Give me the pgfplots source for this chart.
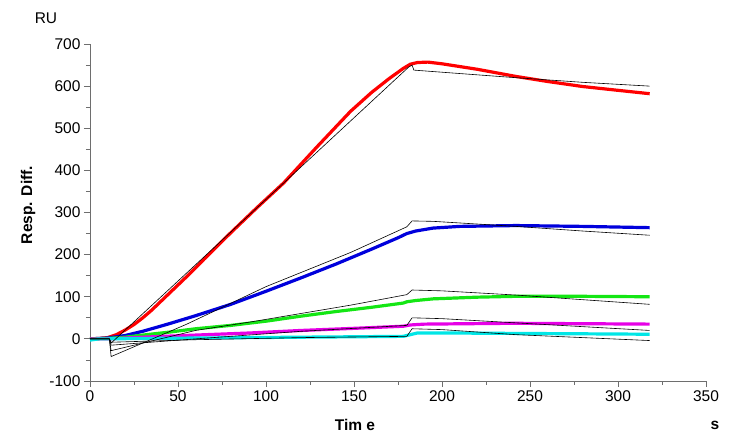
\documentclass[border=0pt]{standalone}
\usepackage{fontspec}
\setmainfont{Liberation Sans}
\usepackage{pgfplots}
\pgfplotsset{compat=1.18}
\definecolor{axgray}{RGB}{110,110,110}
\definecolor{cRed}{RGB}{255,0,0}
\definecolor{cBlue}{RGB}{0,0,220}
\definecolor{cGreen}{RGB}{20,230,20}
\definecolor{cMag}{RGB}{230,0,230}
\definecolor{cCyan}{RGB}{0,230,230}

\begin{document}
\begin{tikzpicture}[x=1bp,y=1bp]
\path[use as bounding box] (-90,-60) rectangle (643,381);
\begin{axis}[
  scale only axis,
  width=616bp, height=337bp,
  at={(0,0)}, anchor=south west,
  xmin=0, xmax=350, ymin=-100, ymax=700,
  axis lines=left,
  axis line style={-, draw=axgray, line width=0.8pt},
  xtick={0,50,...,350},
  ytick={-100,0,...,700},
  minor x tick num=1, minor y tick num=1,
  tick align=outside,
  major tick length=6bp, minor tick length=4bp,
  every tick/.style={draw=axgray, line width=0.8pt},
  tick label style={font=\fontsize{15.5bp}{18bp}\selectfont},
  /pgf/number format/assume math mode=true,
  scaled ticks=false,
  clip=false,
  data/.style={line width=3.2bp, line join=round},
  fit/.style={black, line width=0.6bp},
]
% measured curves
\addplot[data, cRed] coordinates {
  (0,0) (5,1) (10,3) (15,10) (20,21) (25,34) (30,50) (35,68) (45,108)
  (55,148) (65,190) (80,252) (95,312) (110,370) (129,456) (148,540)
  (160,585) (170,618) (178,642) (182,652) (186,656) (192,657) (200,653)
  (220,640) (242,623) (260,611) (280,599) (300,590) (318,582)
};
\addplot[data, cBlue] coordinates {
  (0,0) (10,2) (20,8) (30,18) (45,36) (60,55) (80,82) (100,113) (120,145)
  (140,178) (160,213) (175,240) (180,250) (185,256) (195,263) (210,267)
  (242,269) (280,267) (318,264)
};
\addplot[data, cGreen] coordinates {
  (0,0) (10,1) (20,4) (30,9) (45,16) (60,24) (80,32) (100,42) (120,54)
  (140,65) (160,75) (178,85) (180,88) (185,91) (195,95) (220,99)
  (242,101) (280,101) (318,100)
};
\addplot[data, cMag] coordinates {
  (0,0) (10,0) (30,4) (60,9) (91,14) (120,20) (150,25) (178,30) (182,33)
  (190,35) (240,37) (280,36) (318,35)
};
\addplot[data, cCyan] coordinates {
  (0,-3) (5,0) (10,0) (30,1) (60,2) (90,3) (120,4) (150,5) (178,6)
  (182,10) (186,14) (200,14) (240,13) (280,12) (318,11)
};
% fitted curves
\addplot[fit] coordinates {
  (0,0) (11,0) (12,-10) (181,645) (183,650)
  (184,638) (200,633) (242,620) (280,609) (318,600)
};
\addplot[fit] coordinates {
  (0,0) (11,0) (12,-42) (55,35) (100,124) (148,205) (180,266)
  (183,280) (195,279) (242,267) (280,256) (318,246)
};
\addplot[fit] coordinates {
  (0,0) (11,0) (12,-28) (60,20) (91,40) (148,80) (180,105) (183,116)
  (200,114) (242,104) (280,93) (318,82)
};
\addplot[fit] coordinates {
  (0,0) (11,0) (12,-15) (60,0) (120,18) (180,32) (183,50) (200,48)
  (242,38) (280,29) (318,20)
};
\addplot[fit] coordinates {
  (0,0) (11,0) (12,-8) (60,-2) (120,3) (180,6) (183,24) (200,22)
  (242,10) (280,3) (318,-4)
};
\end{axis}
\node[font=\fontsize{15.5bp}{18bp}\selectfont] at (-44,363) {RU};
\node[font=\fontsize{15.5bp}{18bp}\selectfont\bfseries, rotate=90] at (-62,176) {Resp. Diff.};
\node[font=\fontsize{15.5bp}{18bp}\selectfont\bfseries] at (265,-44) {Tim e};
\node[font=\fontsize{15.5bp}{18bp}\selectfont\bfseries] at (625,-44) {s};
\end{tikzpicture}
\end{document}
